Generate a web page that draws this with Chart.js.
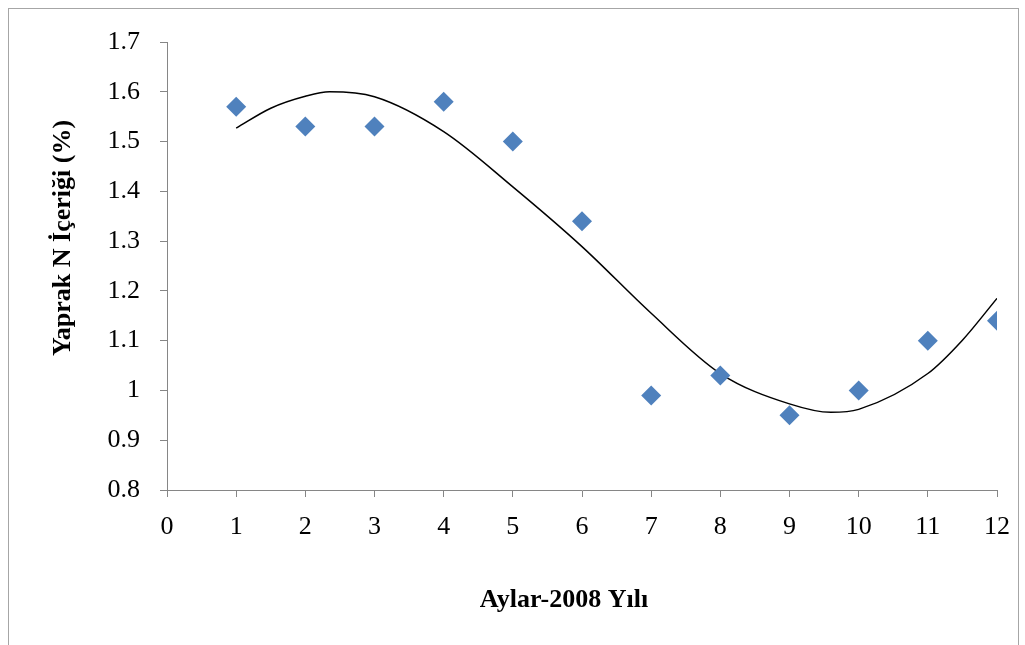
<!DOCTYPE html>
<html>
<head>
<meta charset="utf-8">
<script src="https://cdn.jsdelivr.net/npm/chart.js@4"></script>
<style>
  html, body { margin: 0; padding: 0; background: #fff; overflow: hidden; }
  #wrap { position: relative; width: 1025px; height: 645px; }
  #frame { position: absolute; left: 8px; top: 8px; width: 1009px; height: 660px; border: 1px solid #a6a6a6; }
  #box { position: absolute; left: 0; top: 0; width: 1025px; height: 645px; }
</style>
</head>
<body>
<div id="wrap">
  <div id="frame"></div>
  <div id="box"><canvas id="chart"></canvas></div>
</div>
<script>
'use strict';

// Measured N content by month
const months   = [1, 2, 3, 4, 5, 6, 7, 8, 9, 10, 11, 12];
const nContent = [1.57, 1.53, 1.53, 1.58, 1.50, 1.34, 0.99, 1.03, 0.95, 1.00, 1.10, 1.14];

// Trendline
const trendX = [1, 1.5, 2, 2.35, 3, 4, 5, 6, 7, 8, 9, 9.6, 10, 11, 11.5, 12];
const trendY = [1.527, 1.567, 1.591, 1.600, 1.590, 1.520, 1.409, 1.289, 1.155, 1.034, 0.973, 0.956, 0.962, 1.034, 1.101, 1.185];

const xTicks = [0, 1, 2, 3, 4, 5, 6, 7, 8, 9, 10, 11, 12];
const yTicks = [0.8, 0.9, 1.0, 1.1, 1.2, 1.3, 1.4, 1.5, 1.6, 1.7];

const xTitle = 'Aylar-2008 Yılı';
const yTitle = 'Yaprak N İçeriği (%)';

const serif = "'Liberation Serif', 'Times New Roman', serif";
const axisColor = '#868686';

// Axis titles, placed off-centre like the original
const axisTitles = {
  id: 'axisTitles',
  afterDraw(chart) {
    const { ctx, chartArea: a } = chart;
    ctx.save();
    ctx.fillStyle = '#000';
    ctx.font = 'bold 26px ' + serif;
    ctx.textAlign = 'center';
    ctx.textBaseline = 'middle';
    ctx.fillText(xTitle, (a.left + a.right) / 2 - 18, a.bottom + 110);
    ctx.translate(a.left - 104, (a.top + a.bottom) / 2 - 28);
    ctx.rotate(-Math.PI / 2);
    ctx.fillText(yTitle, 0, 0);
    ctx.restore();
  },
};

const ctx = document.getElementById('chart').getContext('2d');
new Chart(ctx, {
  type: 'scatter',
  data: {
    datasets: [
      {
        label: 'N',
        data: months.map((m, i) => ({ x: m, y: nContent[i] })),
        pointStyle: 'rectRot',
        pointRadius: 10,
        pointHoverRadius: 10,
        backgroundColor: '#4f81bd',
        borderColor: '#4f81bd',
        borderWidth: 0,
      },
      {
        label: 'Trend',
        data: trendX.map((x, i) => ({ x: x, y: trendY[i] })),
        showLine: true,
        pointRadius: 0,
        borderColor: '#000',
        borderWidth: 1.5,
        cubicInterpolationMode: 'monotone',
      },
    ],
  },
  options: {
    responsive: true,
    maintainAspectRatio: false,
    animation: false,
    layout: { padding: { top: 42, right: 27, bottom: 0, left: 0 } },
    plugins: { legend: { display: false }, tooltip: { enabled: false } },
    scales: {
      x: {
        type: 'linear',
        min: 0,
        max: 12,
        afterBuildTicks: (s) => { s.ticks = xTicks.map((v) => ({ value: v })); },
        afterFit: (s) => { s.height = 155; },
        ticks: { color: '#000', padding: 15, font: { family: serif, size: 26 } },
        grid: { display: true, drawOnChartArea: false, drawTicks: true, tickLength: 7, color: axisColor },
        border: { display: true, color: axisColor, width: 1 },
      },
      y: {
        min: 0.8,
        max: 1.7,
        afterBuildTicks: (s) => { s.ticks = yTicks.map((v) => ({ value: v })); },
        afterFit: (s) => { s.width = 167; },
        ticks: {
          color: '#000',
          padding: 20,
          font: { family: serif, size: 26 },
          callback: (v) => String(Number(v.toFixed(2))),
        },
        grid: { display: true, drawOnChartArea: false, drawTicks: true, tickLength: 7, color: axisColor },
        border: { display: true, color: axisColor, width: 1 },
      },
    },
  },
  plugins: [axisTitles],
});
</script>
</body>
</html>
